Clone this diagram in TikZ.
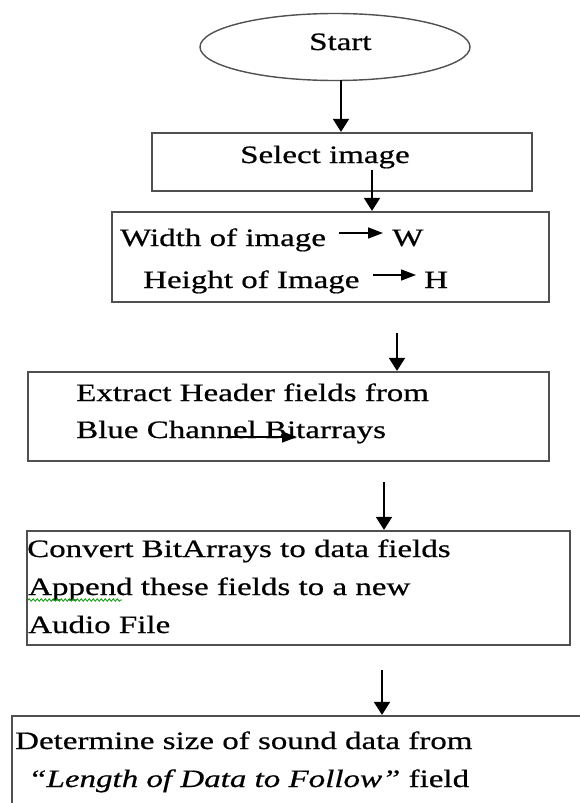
\documentclass[tikz,border=0pt]{standalone}
\usepackage{fontspec}
\setmainfont{Liberation Serif}[FakeStretch=1.32,FakeBold=0.6]
\usepackage{xcolor}
\usetikzlibrary{calc}
\usetikzlibrary{arrows.meta}
\usetikzlibrary{shapes.geometric}
\usetikzlibrary{decorations.pathmorphing}
\definecolor{boxgray}{RGB}{80,80,80}

\begin{document}
\begin{tikzpicture}[x=1pt,y=-1pt,
	font=\fontsize{25}{28}\selectfont,
	blk/.style={draw=boxgray,line width=2.2pt,rectangle,inner sep=0pt},
	txt/.style={anchor=base west,inner sep=0pt},
	flow/.style={-{Triangle[width=16pt,length=13pt]},line width=1.7pt},
	inl/.style={-{Triangle[width=11pt,length=15pt]},line width=1.5pt}]
	\useasboundingbox (0,0) rectangle (579,803);
	% boxes
	\node[draw=boxgray,line width=1.4pt,ellipse,minimum width=270pt,minimum height=67pt] (start) at (335,47) {};
	\node[blk,minimum width=380pt,minimum height=58pt] (sel) at (342,162) {};
	\node[blk,minimum width=437pt,minimum height=90pt] (dim) at (330.5,257) {};
	\node[blk,minimum width=521pt,minimum height=89pt] (hdr) at (288.5,416.5) {};
	\node[blk,minimum width=543pt,minimum height=114pt] (conv) at (298.5,588) {};
	\node[blk,minimum width=608pt,minimum height=134pt] (size) at (316,783) {};
	% texts
	\node[txt] (tstart) at (309,50) {Start};
	\node[txt] (tsel) at (240,163) {Select image};
	\node[txt] (wid) at (120,246) {Width of image};
	\node[txt] (wvar) at (392,246) {W};
	\node[txt] (hei) at (143,288) {Height of Image};
	\node[txt] (hvar) at (424,288) {H};
	\node[txt] (hdr1) at (76,401) {Extract Header fields from};
	\node[txt] (hdr2) at (76,438) {Blue Channel Bitarrays};
	\node[txt] (conv1) at (27,557) {Convert BitArrays to data fields};
	\node[txt] (conv2) at (28,595) {Append these fields to a new};
	\node[txt] (conv3) at (28,633) {Audio File};
	\node[txt] (size1) at (15,749) {Determine size of sound data from};
	\node[txt] (size2) at (28,787) {\textit{“Length of Data to Follow”} field};
	\draw[green!60!black,line width=0.8pt,decorate,decoration={snake,amplitude=1.2pt,segment length=4pt}] (28,600) -- (122,600);
	% arrows
	\coordinate (s1) at (341,80);
	\coordinate (s2) at (372,170);
	\coordinate (s3) at (397,333);
	\coordinate (s4) at (384,482);
	\coordinate (s5) at (382,670);
	\draw[flow] (s1) -- (s1 |- sel.north);
	\draw[flow] (s2) -- (s2 |- dim.north);
	\draw[flow] (s3) -- (s3 |- hdr.north);
	\draw[flow] (s4) -- (s4 |- conv.north);
	\draw[flow] (s5) -- (s5 |- size.north);
	\draw[inl] ([xshift=13pt,yshift=13pt]wid.base east) -- ([xshift=-9pt,yshift=13pt]wvar.base west);
	\draw[inl] ([xshift=13pt,yshift=13pt]hei.base east) -- ([xshift=-8pt,yshift=13pt]hvar.base west);
	\coordinate (b1) at (227,437);
	\coordinate (b2) at (297,437);
	\draw[inl] (b1) -- (b2);
\end{tikzpicture}
\end{document}
